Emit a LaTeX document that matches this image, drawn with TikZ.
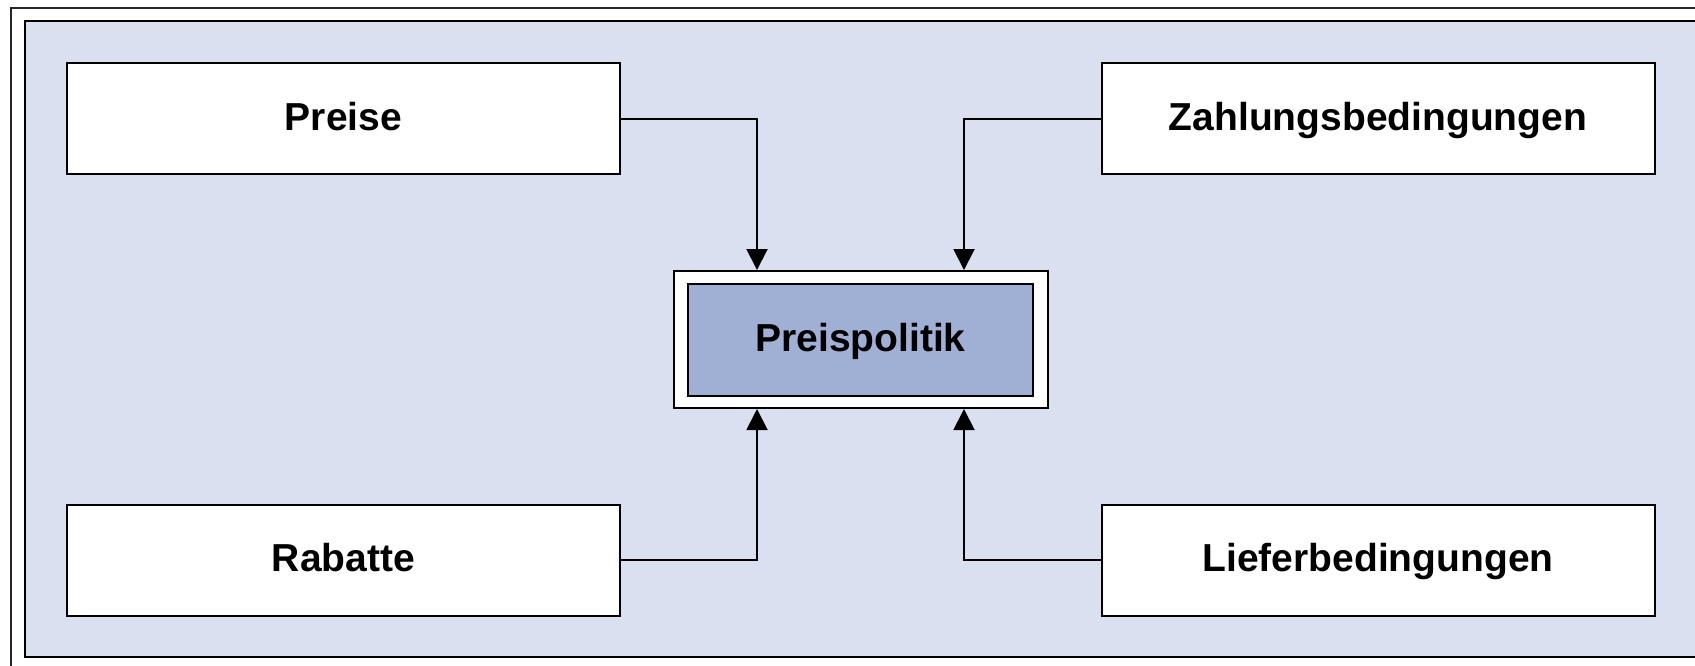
\documentclass[tikz,border=0pt]{standalone}
\usepackage{fontspec}
\setmainfont{Liberation Sans}
\usetikzlibrary{arrows.meta}
\definecolor{panelbg}{RGB}{218,224,239}
\definecolor{corebg}{RGB}{160,176,213}
\tikzset{
  lbl/.style={font=\fontsize{39}{46}\selectfont\bfseries, text height=28pt, text depth=5pt},
  itembox/.style={draw=black, line width=2pt, fill=white, minimum width=553pt, minimum height=111pt, inner sep=0pt, lbl},
  arr/.style={draw=black, line width=2pt, -{Triangle[width=21pt,length=21pt]}},
}
\begin{document}
\begin{tikzpicture}[x=1pt,y=-1pt]
\clip (0,0) rectangle (1695,665);
\fill[white] (0,0) rectangle (1695,665);
\draw[line width=1.5pt, draw=black!85] (11,670) -- (11,8) -- (1700,8);
\draw[line width=2pt, fill=panelbg] (25,21) rectangle (1710,657);
\node[itembox] (preise) at (343.5,118.5) {Preise};
\node[itembox] (zahl) at (1378,118.5) {Zahlungsbedingungen};
\node[itembox] (rabatte) at (343.5,560) {Rabatte};
\node[itembox] (liefer) at (1378,560) {Lieferbedingungen};
\node[draw=black, line width=2pt, fill=white, minimum width=374pt, minimum height=137pt, inner sep=0pt] (pp) at (861,339.5) {};
\node[draw=black, line width=2pt, fill=corebg, minimum width=345pt, minimum height=112pt, inner sep=0pt, lbl] (core) at (860.5,340) {Preispolitik};
\draw[arr] (preise.east) -| ([xshift=-104pt]pp.north);
\draw[arr] (zahl.west) -| ([xshift=103pt]pp.north);
\draw[arr] (rabatte.east) -| ([xshift=-104pt]pp.south);
\draw[arr] (liefer.west) -| ([xshift=103pt]pp.south);
\end{tikzpicture}
\end{document}
